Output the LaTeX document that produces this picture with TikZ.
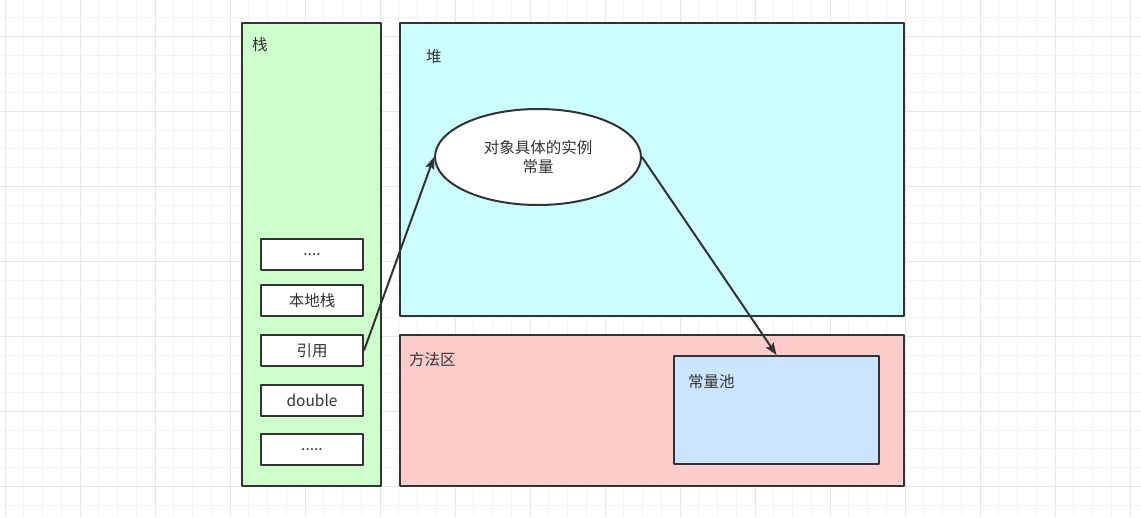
\documentclass[tikz,border=0pt]{standalone}
\usepackage{fontspec}
\setmainfont{Noto Sans CJK SC}
\usetikzlibrary{shapes.geometric,positioning,arrows.meta}
\definecolor{edge}{HTML}{333333}
\definecolor{stackfill}{HTML}{CCFFCC}
\definecolor{heapfill}{HTML}{CCFFFF}
\definecolor{methodfill}{HTML}{FFCCCC}
\definecolor{poolfill}{HTML}{CCE5FF}
\definecolor{gridminor}{HTML}{F3F3F3}
\definecolor{gridmajor}{HTML}{E6E6E6}
\tikzset{
	area/.style={draw=edge,line width=2pt,rectangle,inner sep=0pt},
	slot/.style={area,fill=white,minimum width=102pt,minimum height=31pt,text=edge},
	lbl/.style={anchor=west,text=edge,inner sep=0pt},
	link/.style={-{Stealth[length=12pt,width=9pt,inset=2pt]},edge,line width=2pt},
}
\begin{document}
\begin{tikzpicture}[x=1pt,y=-1pt,line join=round,font=\fontsize{15.5}{19}\selectfont]
	\useasboundingbox (0,0) rectangle (1141,517);
	\fill[white] (0,0) rectangle (1141,517);
	% grid
	\foreach \i in {0,...,60}{
		\pgfmathtruncatemacro{\m}{mod(\i,4)}
		\ifnum\m=0 \def\gc{gridmajor}\else\def\gc{gridminor}\fi
		\draw[\gc,line width=1pt] (5+18.75*\i,0)--(5+18.75*\i,517);
	}
	\foreach \j in {0,...,27}{
		\pgfmathtruncatemacro{\m}{mod(\j,4)}
		\ifnum\m=1 \def\gc{gridmajor}\else\def\gc{gridminor}\fi
		\draw[\gc,line width=1pt] (0,17.7+18.75*\j)--(1141,17.7+18.75*\j);
	}
	% areas
	\node[area,fill=stackfill,minimum width=139pt,minimum height=463pt] (stack) at (311.5,254.5) {};
	\node[area,fill=heapfill,minimum width=504pt,minimum height=293pt] (heap) at (652,169.5) {};
	\node[area,fill=methodfill,minimum width=504pt,minimum height=151pt] (method) at (652,410.5) {};
	\node[area,fill=poolfill,minimum width=205pt,minimum height=108pt] (pool) at (776.5,410) {};
	\node[lbl] (stacklbl) at (252,45) {栈};
	\node[lbl] (heaplbl) at (426,57) {堆};
	\node[lbl] (methodlbl) at (409,360) {方法区};
	\node[lbl] (poollbl) at (688,382) {常量池};
	% stack slots
	\node[slot] (s1) at (312,254.5) {....};
	\node[slot] (s2) at (312,300.5) {本地栈};
	\node[slot] (ref) at (312,350.5) {引用};
	\node[slot] (s4) at (312,400.5) {double};
	\node[slot] (s5) at (312,449.5) {.....};
	% object
	\node[ellipse,draw=edge,line width=2pt,fill=white,minimum width=206pt,minimum height=96pt,inner sep=0pt,align=center,text=edge] (obj) at (538,157) {对象具体的实例\\常量};
	\draw[link] (ref.east)--(obj.west);
	\draw[link] (obj.east)--(pool.north);
\end{tikzpicture}
\end{document}
